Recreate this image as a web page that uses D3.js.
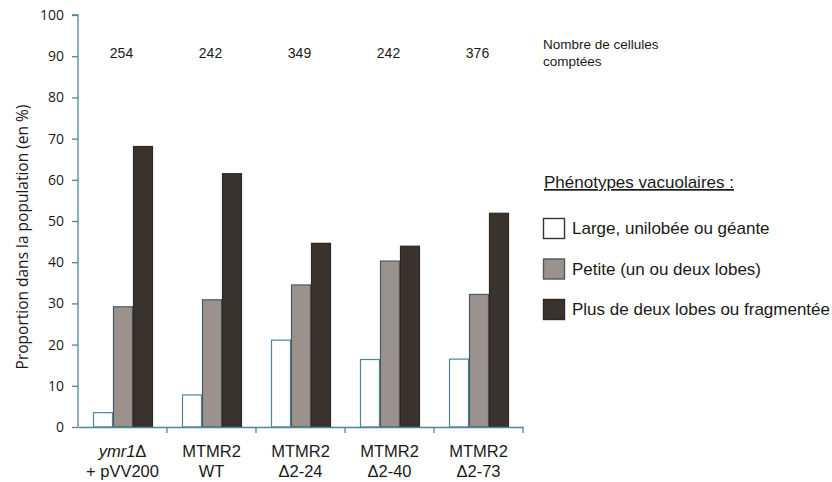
<!DOCTYPE html>
<html><head><meta charset="utf-8">
<script src="https://cdn.jsdelivr.net/npm/d3@7"></script>
<style>body{margin:0;background:#fff}svg{display:block}</style>
</head><body>
<script>
const categories = ["ymr1", "MTMR2 WT", "MTMR2 Δ2-24", "MTMR2 Δ2-40", "MTMR2 Δ2-73"];
const labelLine1 = ["ymr1Δ", "MTMR2", "MTMR2", "MTMR2", "MTMR2"];
const labelLine2 = ["+ pVV200", "WT", "Δ2-24", "Δ2-40", "Δ2-73"];
const counts = [254, 242, 349, 242, 376];
const seriesNames = ["Large, unilobée ou géante", "Petite (un ou deux lobes)", "Plus de deux lobes ou fragmentée"];
const large = [3.6, 7.9, 21.2, 16.5, 16.6];
const petite = [29.3, 31.0, 34.6, 40.4, 32.3];
const plus = [68.2, 61.6, 44.7, 44.0, 52.0];
const yTicks = [0,10,20,30,40,50,60,70,80,90,100];

const W = 832, H = 482;
const axisColor = "#4f8599";
const fills = ["#ffffff", "#9c928d", "#3a332d"];
const strokes = [axisColor, "#4a5a60", "#2d2823"];
const arial = "'Liberation Sans', Arial, sans-serif";

const svg = d3.select("body").append("svg").attr("width", W).attr("height", H);
const y = d3.scaleLinear().domain([0,100]).range([427,15]);
const x = d3.scaleBand().domain(categories).range([78,523]).padding(0);
const inner = d3.scaleBand().domain([0,1,2]).range([15,75]).padding(0);
const series = [large, petite, plus];

// bars
series.forEach((vals, s) => {
  svg.append("g").selectAll("rect").data(vals).join("rect")
    .attr("x", (d,i) => x(categories[i]) + inner(s) + 0.5)
    .attr("y", d => y(d) + 0.5)
    .attr("width", inner.bandwidth() - 1)
    .attr("height", d => y(0) - y(d) - 0.5)
    .attr("fill", fills[s])
    .attr("stroke", strokes[s])
    .attr("stroke-width", 1.2);
});

// y axis
const yAxis = d3.axisLeft(y).tickValues(yTicks).tickSize(6).tickPadding(8);
const gy = svg.append("g").attr("transform", "translate(78,0)").call(yAxis);
gy.select(".domain").attr("stroke", axisColor).attr("stroke-width", 1.3).attr("d", "M-6,15H0V427");
gy.selectAll(".tick line").attr("stroke", axisColor).attr("stroke-width", 1.3);
gy.selectAll(".tick text").attr("font-family", "'Open Sans', sans-serif").attr("font-size", 14).attr("fill", "#1a1a1a");

// x axis
const xAxis = d3.axisBottom(x).tickValues([]).tickSizeOuter(0);
const gx = svg.append("g").attr("transform", "translate(0,427)").call(xAxis);
gx.select(".domain").attr("stroke", axisColor).attr("stroke-width", 1.3);
const bounds = categories.map(c => x(c)).concat([x(categories[categories.length-1]) + x.bandwidth()]);
gx.selectAll("line.sep").data(bounds.slice(1)).join("line").attr("class","sep")
  .attr("x1", d => d).attr("x2", d => d).attr("y1", 0).attr("y2", 6)
  .attr("stroke", axisColor).attr("stroke-width", 1.3);

// x labels
const lab = svg.append("g").attr("font-family", arial).attr("font-size", 16.5).attr("fill", "#1a1a1a").attr("text-anchor", "middle");
categories.forEach((c, i) => {
  const cx = x(c) + x.bandwidth()/2;
  const t1 = lab.append("text").attr("x", cx).attr("y", 457);
  if (i === 0) {
    t1.append("tspan").attr("font-style", "italic").text("ymr1");
    t1.append("tspan").text("Δ");
  } else t1.text(labelLine1[i]);
  lab.append("text").attr("x", cx).attr("y", 477).text(labelLine2[i]);
});

// counts
svg.append("g").selectAll("text").data(counts).join("text")
  .attr("x", (d,i) => x(categories[i]) + x.bandwidth()/2 - 1)
  .attr("y", 58)
  .attr("text-anchor", "middle")
  .attr("font-family", arial).attr("font-size", 14).attr("fill", "#1a1a1a")
  .text(d => d);
const nbFont = 13.5;
svg.append("text").attr("x", 543).attr("y", 49).attr("font-family", arial).attr("font-size", nbFont).attr("fill", "#1a1a1a").text("Nombre de cellules");
svg.append("text").attr("x", 543).attr("y", 65.5).attr("font-family", arial).attr("font-size", nbFont).attr("fill", "#1a1a1a").text("comptées");

// y label
svg.append("text").attr("transform", "translate(28,237) rotate(-90)").attr("text-anchor", "middle")
  .attr("font-family", "'Open Sans', sans-serif").attr("font-size", 15.5).attr("fill", "#1a1a1a")
  .text("Proportion dans la population (en %)");

// legend
const lg = svg.append("g").attr("font-family", arial).attr("font-size", 17).attr("fill", "#1a1a1a");
lg.append("text").attr("x", 544).attr("y", 188).attr("text-decoration", "underline").text("Phénotypes vacuolaires :");
seriesNames.forEach((n, s) => {
  const yy = 218 + s*40.5;
  lg.append("rect").attr("x", 543.5).attr("y", yy + 0.5).attr("width", 21).attr("height", 20)
    .attr("fill", fills[s]).attr("stroke", s === 0 ? "#3a332d" : strokes[s]).attr("stroke-width", 1.4);
  lg.append("text").attr("x", 572).attr("y", yy + 16).text(n);
});
</script>
</body></html>
